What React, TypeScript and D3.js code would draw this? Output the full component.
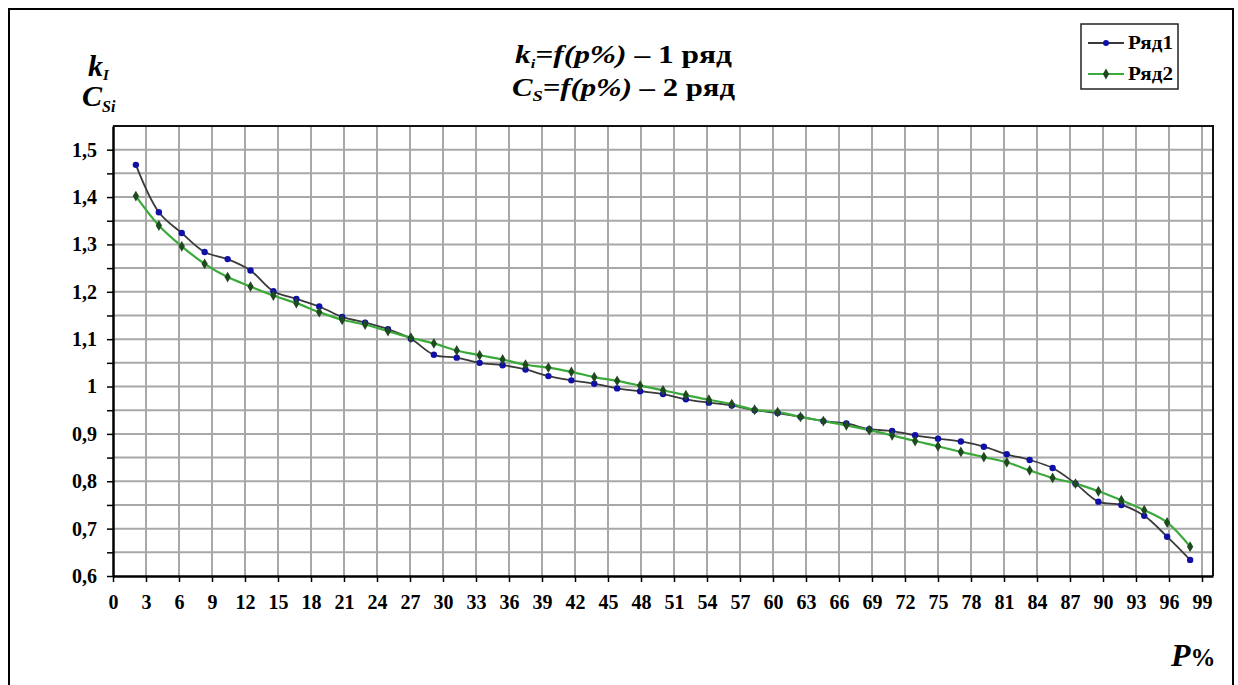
import React, { useEffect, useRef } from 'react';
import * as d3 from 'd3';

// p% positions of the 47 points
const pValues = [
  2.08, 4.17, 6.25, 8.33, 10.42, 12.5, 14.58, 16.67, 18.75, 20.83, 22.92, 25, 27.08, 29.17, 31.25, 33.33,
  35.42, 37.5, 39.58, 41.67, 43.75, 45.83, 47.92, 50, 52.08, 54.17, 56.25, 58.33, 60.42, 62.5, 64.58, 66.67,
  68.75, 70.83, 72.92, 75, 77.08, 79.17, 81.25, 83.33, 85.42, 87.5, 89.58, 91.67, 93.75, 95.83, 97.92,
];

// Ряд1: k_i
const series1 = [
  1.468, 1.368, 1.324, 1.284, 1.269, 1.245, 1.201, 1.185, 1.169, 1.147, 1.135, 1.121, 1.101, 1.067, 1.061, 1.05,
  1.045, 1.036, 1.022, 1.013, 1.006, 0.996, 0.99, 0.984, 0.973, 0.966, 0.96, 0.95, 0.944, 0.936, 0.927, 0.922,
  0.91, 0.906, 0.897, 0.89, 0.884, 0.873, 0.857, 0.845, 0.828, 0.795, 0.757, 0.75, 0.727, 0.683, 0.634,
];

// Ряд2: C_S
const series2 = [
  1.402, 1.34, 1.296, 1.259, 1.231, 1.211, 1.192, 1.176, 1.157, 1.141, 1.131, 1.117, 1.103, 1.091, 1.076, 1.066,
  1.057, 1.046, 1.04, 1.031, 1.02, 1.012, 1.002, 0.992, 0.982, 0.972, 0.963, 0.951, 0.946, 0.936, 0.927, 0.918,
  0.908, 0.897, 0.885, 0.874, 0.862, 0.851, 0.84, 0.823, 0.807, 0.795, 0.779, 0.76, 0.739, 0.713, 0.662,
];

const xTicks = [0, 3, 6, 9, 12, 15, 18, 21, 24, 27, 30, 33, 36, 39, 42, 45, 48, 51, 54, 57, 60, 63, 66, 69, 72, 75, 78, 81, 84, 87, 90, 93, 96, 99];
const yTicks = [0.6, 0.7, 0.8, 0.9, 1.0, 1.1, 1.2, 1.3, 1.4, 1.5];
const yTickLabels = ['0,6', '0,7', '0,8', '0,9', '1', '1,1', '1,2', '1,3', '1,4', '1,5'];
const yMinor = [0.65, 0.75, 0.85, 0.95, 1.05, 1.15, 1.25, 1.35, 1.45];
const legendLabels = ['Ряд1', 'Ряд2'];

const FONT = '"Liberation Serif", "Times New Roman", Times, serif';

const App: React.FC = () => {
  const svgRef = useRef<SVGSVGElement | null>(null);

  useEffect(() => {
    if (!svgRef.current) return;
    const svg = d3.select(svgRef.current);
    svg.selectAll('*').remove();

    const left = 113, right = 1213, top = 126, bottom = 576;
    const x = d3.scaleLinear().domain([0, 100]).range([left, right]);
    const y = d3.scaleLinear().domain([0.6, 1.55]).range([bottom, top]);

    // outer frame (bottom runs off the page)
    svg.append('rect')
      .attr('x', 9).attr('y', 9).attr('width', 1224).attr('height', 700)
      .attr('fill', '#fff').attr('stroke', '#000').attr('stroke-width', 2);

    // grid
    const grid = svg.append('g').attr('stroke', '#a8a8a8').attr('stroke-width', 2);
    xTicks.slice(1).forEach(t => {
      grid.append('line').attr('x1', x(t)).attr('x2', x(t)).attr('y1', top).attr('y2', bottom);
    });
    [...yTicks.slice(1), ...yMinor].forEach(t => {
      grid.append('line').attr('x1', left).attr('x2', right).attr('y1', y(t)).attr('y2', y(t));
    });

    // plot border + axes
    svg.append('path')
      .attr('d', `M${left},${top}H${right}V${bottom}`)
      .attr('fill', 'none').attr('stroke', '#111').attr('stroke-width', 2);

    const xAxis = svg.append('g')
      .attr('transform', `translate(0,${bottom})`)
      .call(d3.axisBottom(x).tickValues(xTicks).tickSize(6).tickSizeOuter(0).tickPadding(13).tickFormat(d3.format('d')));
    xAxis.attr('font-family', null).attr('font-size', null);
    xAxis.select('.domain').attr('stroke', '#000').attr('stroke-width', 2.5);
    xAxis.selectAll('.tick line').attr('stroke', '#000').attr('stroke-width', 1.5);
    xAxis.selectAll('text')
      .style('font-family', FONT).style('font-size', '20px').style('font-weight', 'bold').attr('fill', '#000');

    const yAxis = svg.append('g')
      .attr('transform', `translate(${left},0)`)
      .call(d3.axisLeft(y).tickValues([...yTicks, ...yMinor]).tickSize(6).tickSizeOuter(0).tickPadding(10)
        .tickFormat(d => {
          const i = yTicks.findIndex(t => Math.abs(t - +d) < 1e-6);
          return i >= 0 ? yTickLabels[i] : '';
        }));
    yAxis.attr('font-family', null).attr('font-size', null);
    yAxis.select('.domain').attr('stroke', '#000').attr('stroke-width', 2.5);
    yAxis.selectAll('.tick line').attr('stroke', '#000').attr('stroke-width', 1.5);
    yAxis.selectAll('text')
      .style('font-family', FONT).style('font-size', '20px').style('font-weight', 'bold').attr('fill', '#000');

    // series
    const line = d3.line<number>()
      .x((_, i) => x(pValues[i]))
      .y(d => y(d))
      .curve(d3.curveCatmullRom.alpha(0.5));

    svg.append('path').datum(series1)
      .attr('d', line).attr('fill', 'none').attr('stroke', '#3a3a3a').attr('stroke-width', 1.8);
    svg.append('path').datum(series2)
      .attr('d', line).attr('fill', 'none').attr('stroke', '#3aaa3a').attr('stroke-width', 2.2);

    const diamond = d3.symbol().type(d3.symbolDiamond).size(34);

    svg.append('g').selectAll('circle').data(series1).join('circle')
      .attr('cx', (_, i) => x(pValues[i])).attr('cy', d => y(d)).attr('r', 3.2)
      .attr('fill', '#1010a8');
    svg.append('g').selectAll('path').data(series2).join('path')
      .attr('transform', (d, i) => `translate(${x(pValues[i])},${y(d)})`)
      .attr('d', diamond).attr('fill', '#1f4a1f');

    // title
    const t1 = svg.append('text').attr('x', 515).attr('y', 63)
      .style('font-family', FONT).style('font-size', '25px').style('font-weight', 'bold').attr('fill', '#000')
      .attr('textLength', 217).attr('lengthAdjust', 'spacingAndGlyphs');
    t1.append('tspan').style('font-style', 'italic').text('k');
    t1.append('tspan').style('font-style', 'italic').style('font-size', '13px').attr('dy', 5).text('i');
    t1.append('tspan').style('font-style', 'italic').attr('dy', -5).text('=f(p%)');
    t1.append('tspan').text(' – 1 ряд');

    const t2 = svg.append('text').attr('x', 512).attr('y', 96)
      .style('font-family', FONT).style('font-size', '25px').style('font-weight', 'bold').attr('fill', '#000')
      .attr('textLength', 223).attr('lengthAdjust', 'spacingAndGlyphs');
    t2.append('tspan').style('font-style', 'italic').text('C');
    t2.append('tspan').style('font-style', 'italic').style('font-size', '15px').attr('dy', 5).text('S');
    t2.append('tspan').style('font-style', 'italic').attr('dy', -5).text('=f(p%)');
    t2.append('tspan').text(' – 2 ряд');

    // y-axis title
    const k = svg.append('text').attr('x', 88).attr('y', 76)
      .style('font-family', FONT).style('font-size', '30px').style('font-weight', 'bold').style('font-style', 'italic');
    k.append('tspan').text('k');
    k.append('tspan').style('font-size', '15px').attr('dy', 4).text('I');
    const c = svg.append('text').attr('x', 82).attr('y', 106)
      .style('font-family', FONT).style('font-size', '30px').style('font-weight', 'bold').style('font-style', 'italic');
    c.append('tspan').text('C');
    c.append('tspan').style('font-size', '16px').attr('dy', 6).text('Si');

    // x-axis title
    const p = svg.append('text').attr('x', 1171).attr('y', 666)
      .style('font-family', FONT).style('font-weight', 'bold').attr('fill', '#000');
    p.append('tspan').style('font-size', '32px').style('font-style', 'italic').text('P');
    p.append('tspan').style('font-size', '25px').text('%');

    // legend
    const lg = svg.append('g');
    lg.append('rect').attr('x', 1081).attr('y', 24).attr('width', 97).attr('height', 65)
      .attr('fill', '#fff').attr('stroke', '#222').attr('stroke-width', 1.5);
    legendLabels.forEach((lbl, i) => {
      const ly = 43 + i * 31;
      lg.append('line').attr('x1', 1088).attr('x2', 1124).attr('y1', ly).attr('y2', ly)
        .attr('stroke', i === 0 ? '#3a3a3a' : '#3aaa3a').attr('stroke-width', i === 0 ? 1.8 : 2.2);
      if (i === 0) {
        lg.append('circle').attr('cx', 1106).attr('cy', ly).attr('r', 3).attr('fill', '#1010a8');
      } else {
        lg.append('path').attr('transform', `translate(1106,${ly})`).attr('d', diamond).attr('fill', '#1f4a1f');
      }
      lg.append('text').attr('x', 1128).attr('y', ly + 6)
        .style('font-family', FONT).style('font-size', '19px').style('font-weight', 'bold')
        .attr('textLength', 45).attr('lengthAdjust', 'spacingAndGlyphs')
        .text(lbl);
    });
  }, []);

  return (
    <svg
      ref={svgRef}
      width={1238}
      height={685}
      style={{ position: 'absolute', left: 0, top: 0, background: '#fff', fontFamily: FONT }}
    />
  );
};

export default App;
